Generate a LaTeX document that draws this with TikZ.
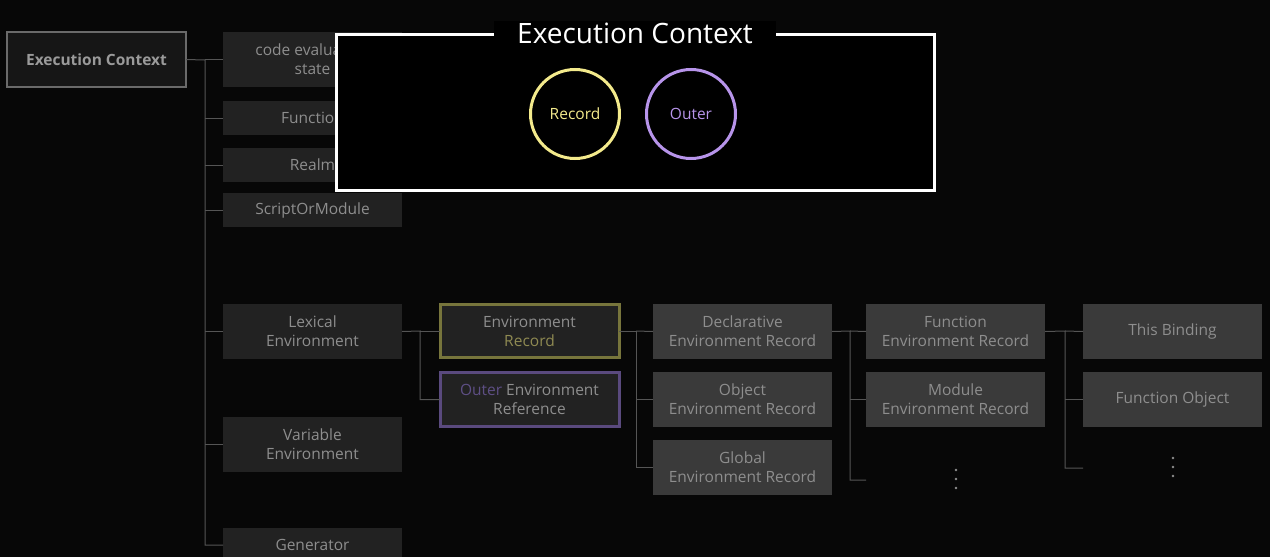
\documentclass[tikz,border=0pt]{standalone}
\usepackage{fontspec}
\setmainfont{Open Sans}
\begin{document}
\begin{tikzpicture}[x=1pt,y=-1pt,
  base/.style={inner sep=0pt,outer sep=0pt,align=center,anchor=north west,minimum width=179pt,font=\fontsize{15.5}{19}\selectfont},
  ecbox/.style={base,draw=ecline,line width=1.3pt,fill=ecfill,text=ectext,font=\fontsize{15.5}{19}\selectfont\bfseries},
  lbox/.style={base,fill=lfill,text=ltext},
  rbox/.style={base,fill=rfill,text=rtext},
  conn/.style={draw=connc,line width=1pt},
  dotmark/.style={fill=rtext},
  ring/.style={circle,line width=3pt,minimum size=89pt,inner sep=0pt,font=\fontsize{15.5}{18}\selectfont}]
\definecolor{bg}{HTML}{070707}
\definecolor{ecline}{HTML}{6A6A6A}
\definecolor{ecfill}{HTML}{161616}
\definecolor{ectext}{HTML}{9A9A9A}
\definecolor{lfill}{HTML}{222222}
\definecolor{ltext}{HTML}{8E8E8E}
\definecolor{rfill}{HTML}{3A3A3A}
\definecolor{rtext}{HTML}{8E8E8E}
\definecolor{connc}{HTML}{555555}
\definecolor{olive}{HTML}{77753C}
\definecolor{olivetext}{HTML}{8F8A52}
\definecolor{purpline}{HTML}{5A4A7E}
\definecolor{purptext}{HTML}{5E4F85}
\definecolor{recyel}{HTML}{F3EA8C}
\definecolor{outpur}{HTML}{B794EA}
\fill[bg] (0,0) rectangle (1270,557);
\useasboundingbox (0,0) rectangle (1270,557);

% column 0
\node[ecbox,minimum width=179pt,minimum height=55pt] (ec) at (7,32) {Execution Context};

% column 1
\node[lbox,minimum height=55pt] (code) at (223,32) {code evaluation\\state};
\node[lbox,minimum height=34pt] (func) at (223,101) {Function};
\node[lbox,minimum height=34pt] (realm) at (223,148) {Realm};
\node[lbox,minimum height=34pt] (script) at (223,193) {ScriptOrModule};
\node[lbox,minimum height=55pt] (lex) at (223,304) {Lexical\\Environment};
\node[lbox,minimum height=55pt] (var) at (223,417) {Variable\\Environment};
\node[lbox,minimum height=34pt] (gen) at (223,528) {Generator};

\coordinate (t1) at (205,60);
\draw[conn] (ec.east) -- (t1) -- (t1 |- gen.west) -- (gen.west);
\foreach \n in {code,func,realm,script,lex,var}
  \draw[conn] (t1 |- \n.west) -- (\n.west);

% column 2
\node[base,minimum width=179pt,minimum height=53pt,draw=olive,line width=3pt,fill=lfill,text=ltext,anchor=center] (envrec) at (529.5,331) {Environment\\\textcolor{olivetext}{Record}};
\node[base,minimum width=179pt,minimum height=54pt,draw=purpline,line width=3pt,fill=lfill,text=ltext,anchor=center] (outer) at (529.5,399.5) {\textcolor{purptext}{Outer} Environment\\Reference};
\coordinate (t2) at (420,331);
\draw[conn] (lex.east) -- (t2) -- (t2 |- outer.west) -- (outer.west);
\draw[conn] (t2) -- (envrec.west);

% column 3
\node[rbox,minimum height=55pt] (decl) at (653,304) {Declarative\\Environment Record};
\node[rbox,minimum height=55pt] (obj) at (653,372) {Object\\Environment Record};
\node[rbox,minimum height=55pt] (glob) at (653,440) {Global\\Environment Record};
\coordinate (t3) at (636,331);
\draw[conn] (envrec.east) -- (t3) -- (t3 |- glob.west) -- (glob.west);
\draw[conn] (t3) -- (decl.west);
\draw[conn] (t3 |- obj.west) -- (obj.west);

% column 4
\node[rbox,minimum height=55pt] (fer) at (866,304) {Function\\Environment Record};
\node[rbox,minimum height=55pt] (mer) at (866,372) {Module\\Environment Record};
\foreach \y in {470,479,488} \fill[dotmark] (956,\y) circle (1.3);
\coordinate (t4) at (850,331);
\coordinate (e4) at (866,480);
\draw[conn] (decl.east) -- (t4) -- (t4 |- e4) -- (e4);
\draw[conn] (t4) -- (fer.west);
\draw[conn] (t4 |- mer.west) -- (mer.west);

% column 5
\node[rbox,minimum height=55pt] (this) at (1083,304) {This Binding};
\node[rbox,minimum height=55pt] (fobj) at (1083,372) {Function Object};
\foreach \y in {458,467,476} \fill[dotmark] (1173,\y) circle (1.3);
\coordinate (t5) at (1065,331);
\coordinate (e5) at (1083,468);
\draw[conn] (fer.east) -- (t5) -- (t5 |- e5) -- (e5);
\draw[conn] (t5) -- (this.west);
\draw[conn] (t5 |- fobj.west) -- (fobj.west);

% overlay panel
\draw[white,line width=3pt,fill=black] (336,34) rectangle (934,190);
\node[fill=black,text=white,inner xsep=23pt,inner ysep=2pt,font=\fontsize{28}{32}\selectfont] (title) at (635,33) {Execution Context};
\node[ring,draw=recyel,text=recyel] (rec) at (575,114) {Record};
\node[ring,draw=outpur,text=outpur] (out) at (691,114) {Outer};
\end{tikzpicture}
\end{document}
